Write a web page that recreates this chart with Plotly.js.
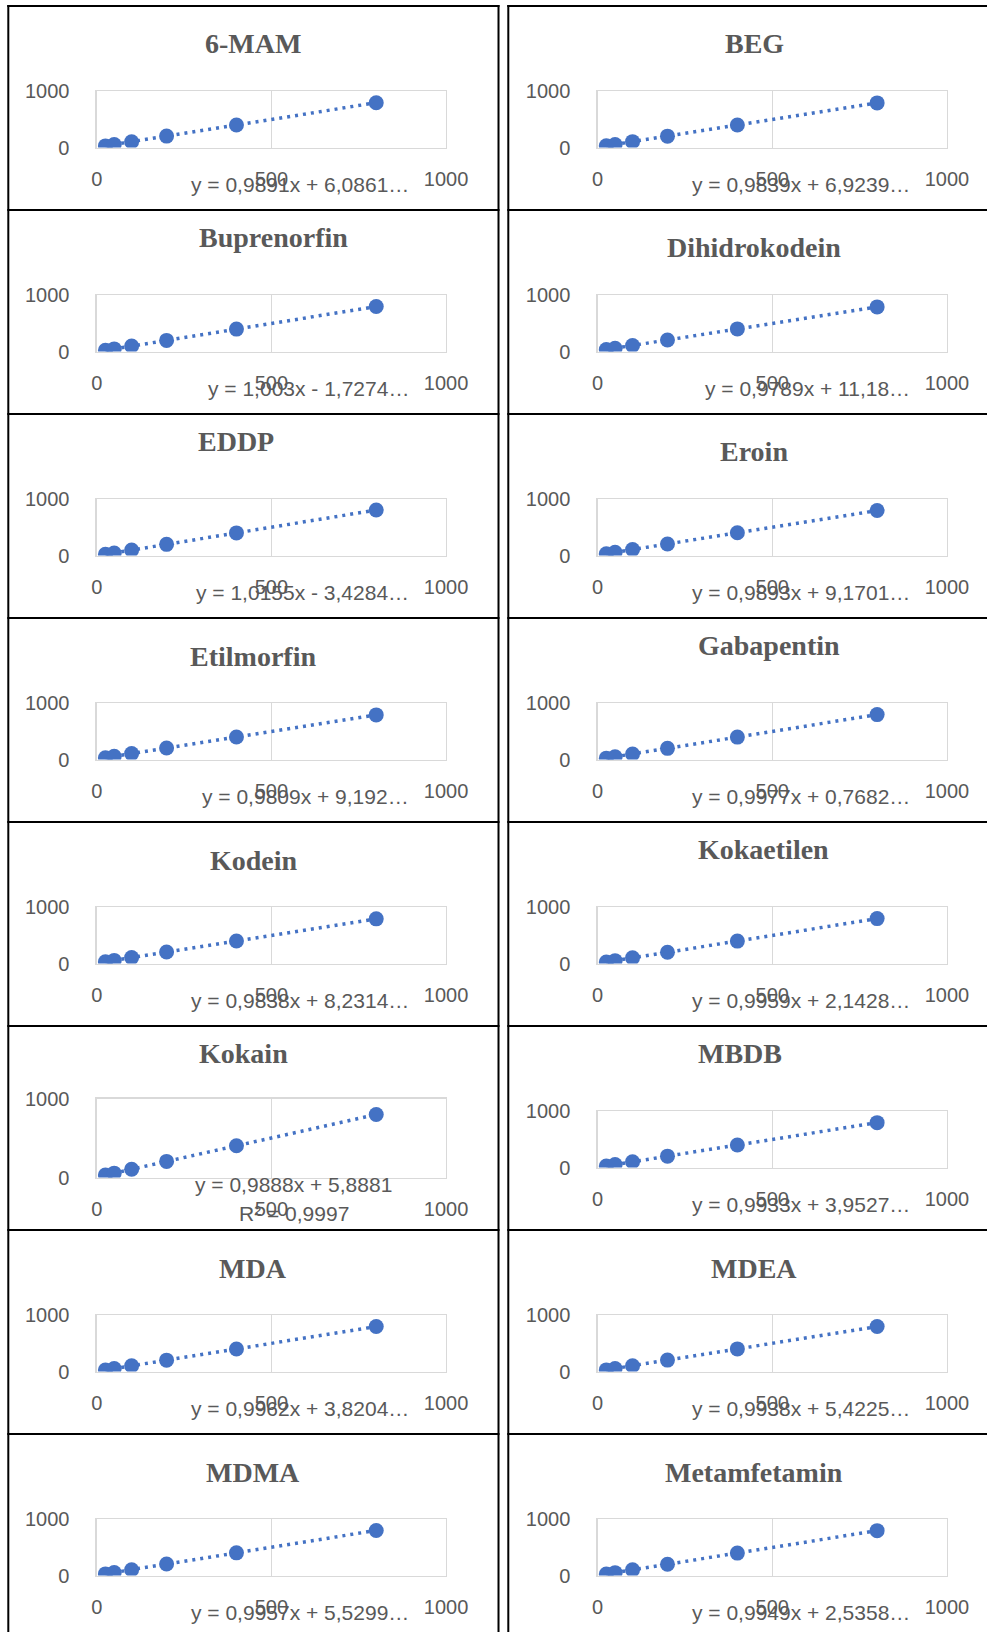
<!DOCTYPE html>
<html>
<head>
<meta charset="utf-8">
<script src="https://cdn.plot.ly/plotly-3.0.1.min.js"></script>
<style>
html,body{margin:0;padding:0;background:#ffffff;}
#chart{width:987px;height:1632px;}
</style>
</head>
<body>
<div id="chart"></div>
<script>
// ---------------- DATA ----------------
const compounds = ["6-MAM","BEG","Buprenorfin","Dihidrokodein","EDDP","Eroin","Etilmorfin","Gabapentin",
                   "Kodein","Kokaetilen","Kokain","MBDB","MDA","MDEA","MDMA","Metamfetamin"];
const concentrations = [25, 50, 100, 200, 400, 800];

const y6MAM         = [30, 55, 105, 204, 402, 797];
const yBEG          = [31, 56, 106, 203, 401, 794];
const yBuprenorfin  = [23, 48, 99, 199, 400, 801];
const yDihidrokodein= [36, 60, 109, 207, 403, 794];
const yEDDP         = [22, 47, 98, 200, 403, 809];
const yEroin        = [34, 59, 108, 207, 405, 801];
const yEtilmorfin   = [34, 58, 107, 205, 401, 794];
const yGabapentin   = [26, 51, 100, 200, 400, 799];
const yKodein       = [33, 57, 107, 205, 402, 795];
const yKokaetilen   = [27, 52, 102, 201, 400, 799];
const yKokain       = [31, 55, 105, 204, 401, 797];
const yMBDB         = [29, 54, 103, 203, 401, 798];
const yMDA          = [29, 54, 103, 203, 402, 800];
const yMDEA         = [30, 55, 105, 204, 403, 800];
const yMDMA         = [30, 55, 105, 205, 404, 802];
const yMetamfetamin = [27, 52, 102, 201, 400, 798];

const responses = [y6MAM, yBEG, yBuprenorfin, yDihidrokodein, yEDDP, yEroin, yEtilmorfin, yGabapentin,
                   yKodein, yKokaetilen, yKokain, yMBDB, yMDA, yMDEA, yMDMA, yMetamfetamin];

const slopes     = [0.9891, 0.9839, 1.003, 0.9789, 1.0155, 0.9893, 0.9809, 0.9977,
                    0.9838, 0.9959, 0.9888, 0.9933, 0.9962, 0.9938, 0.9957, 0.9949];
const intercepts = [6.0861, 6.9239, -1.7274, 11.18, -3.4284, 9.1701, 9.192, 0.7682,
                    8.2314, 2.1428, 5.8881, 3.9527, 3.8204, 5.4225, 5.5299, 2.5358];
const equationLabels = [
  "y = 0,9891x + 6,0861…", "y = 0,9839x + 6,9239…", "y = 1,003x - 1,7274…", "y = 0,9789x + 11,18…",
  "y = 1,0155x - 3,4284…", "y = 0,9893x + 9,1701…", "y = 0,9809x + 9,192…", "y = 0,9977x + 0,7682…",
  "y = 0,9838x + 8,2314…", "y = 0,9959x + 2,1428…", "y = 0,9888x + 5,8881", "y = 0,9933x + 3,9527…",
  "y = 0,9962x + 3,8204…", "y = 0,9938x + 5,4225…", "y = 0,9957x + 5,5299…", "y = 0,9949x + 2,5358…"];
const r2Labels = ["", "", "", "", "", "", "", "", "", "", "R² = 0,9997", "", "", "", "", ""];

const xTickValues = [0, 500, 1000];
const yTickValues = [0, 1000];

// ---------------- STYLE / POSITIONS ----------------
const W = 987, H = 1632;
const ROW0 = 6, ROWH = 204;
const titleCx = [253, 754, 273, 754, 236, 754, 253, 769, 254, 763, 243, 740, 253, 754, 253, 754];
const titleDy = [37, 37, 27, 37, 27, 37, 38, 27, 38, 27, 27, 27, 38, 38, 38, 38];
const tallPanel = [false,false,false,false,false,false,false,false,false,false,true,false,false,false,false,false];

const BLUE = "#4472C4", GREY = "#595959", GRID = "#D9D9D9";
const px = v => v / W;
const py = v => 1 - v / H;

const data = [];
const layout = {
  width: W, height: H,
  margin: {l: 0, r: 0, t: 0, b: 0, pad: 0},
  paper_bgcolor: "#ffffff", plot_bgcolor: "#ffffff",
  showlegend: false,
  font: {family: "Liberation Sans, Arial, sans-serif", color: GREY, size: 20},
  annotations: [], shapes: []
};

compounds.forEach((name, i) => {
  const col = i % 2, row = Math.floor(i / 2);
  const rowTop = ROW0 + ROWH * row;
  const x0 = col ? 597.6 : 96.7, x1 = x0 + 349.4;
  let top, bot;
  if (tallPanel[i]) { top = rowTop + 72.5; bot = rowTop + 151.5; }
  else { top = rowTop + 85.3; bot = top + 56.3; }
  const k = i === 0 ? "" : String(i + 1);
  const xa = "x" + k, ya = "y" + k;

  layout["xaxis" + k] = {
    domain: [px(x0), px(x1)], anchor: ya, range: [0, 1000],
    tickmode: "array", tickvals: xTickValues, ticktext: xTickValues.map(String),
    showgrid: true, gridcolor: GRID, gridwidth: 1.3, zeroline: false,
    showline: true, mirror: true, linecolor: GRID, linewidth: 1.3,
    ticks: "", ticklabelstandoff: 13,
    tickfont: {family: "Liberation Sans, Arial, sans-serif", size: 20, color: GREY},
    fixedrange: true
  };
  layout["yaxis" + k] = {
    domain: [py(bot), py(top)], anchor: xa, range: [0, 1000],
    tickmode: "array", tickvals: yTickValues, ticktext: yTickValues.map(String),
    showgrid: true, gridcolor: GRID, gridwidth: 1.3, zeroline: false,
    showline: true, mirror: true, linecolor: GRID, linewidth: 1.3,
    ticks: "", ticklabelstandoff: 22,
    tickfont: {family: "Liberation Sans, Arial, sans-serif", size: 20, color: GREY},
    fixedrange: true
  };

  const xs = concentrations;
  const xmin = Math.min(...xs), xmax = Math.max(...xs);
  data.push({
    type: "scatter", mode: "lines", xaxis: xa, yaxis: ya,
    x: [xmin, xmax], y: [slopes[i] * xmin + intercepts[i], slopes[i] * xmax + intercepts[i]],
    line: {color: BLUE, width: 3.5, dash: "3px,5px"}, hoverinfo: "skip"
  });
  data.push({
    type: "scatter", mode: "markers", xaxis: xa, yaxis: ya,
    x: xs, y: responses[i], name: name,
    marker: {color: BLUE, size: 15}
  });

  // title
  layout.annotations.push({
    xref: "paper", yref: "paper", x: px(titleCx[i]), y: py(rowTop + titleDy[i]),
    xanchor: "center", yanchor: "middle", showarrow: false,
    text: "<b>" + name + "</b>",
    font: {family: "Liberation Serif, Times New Roman, serif", size: 28, color: GREY}
  });
  // equation
  if (r2Labels[i]) {
    const cx = (x0 + 197);
    layout.annotations.push({
      xref: "paper", yref: "paper", x: px(cx), y: py(bot + 6.5),
      xanchor: "center", yanchor: "middle", showarrow: false,
      text: equationLabels[i], font: {size: 21, color: GREY}
    });
    layout.annotations.push({
      xref: "paper", yref: "paper", x: px(cx), y: py(bot + 35.5),
      xanchor: "center", yanchor: "middle", showarrow: false,
      text: r2Labels[i], font: {size: 21, color: GREY}
    });
  } else {
    layout.annotations.push({
      xref: "paper", yref: "paper", x: px(x1 - 35), y: py(bot + 37),
      xanchor: "right", yanchor: "middle", showarrow: false,
      text: equationLabels[i], font: {size: 21, color: GREY}
    });
  }
});

// table borders
function line(xa0, ya0, xa1, ya1) {
  layout.shapes.push({type: "line", xref: "paper", yref: "paper",
    x0: px(xa0), y0: py(ya0), x1: px(xa1), y1: py(ya1),
    line: {color: "#000000", width: 2}});
}
for (let r = 0; r < 8; r++) {
  const yy = ROW0 + ROWH * r;
  line(7.3, yy, 499.5, yy);
  line(507.3, yy, W + 2, yy);
}
line(8.3, ROW0 - 1, 8.3, H + 2);
line(498.5, ROW0 - 1, 498.5, H + 2);
line(508.3, ROW0 - 1, 508.3, H + 2);

Plotly.newPlot("chart", data, layout, {staticPlot: true, displayModeBar: false});
</script>
</body>
</html>
